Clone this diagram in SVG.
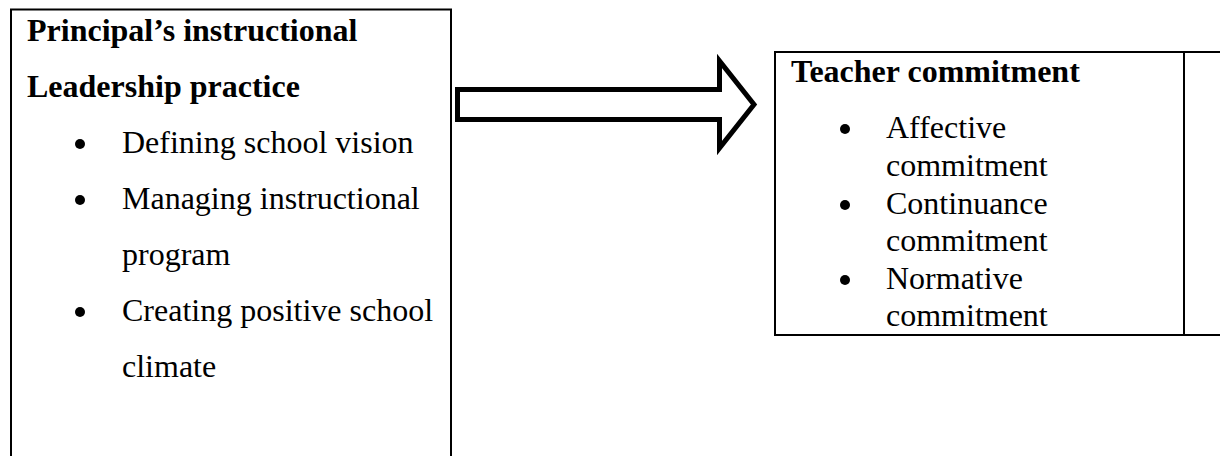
<svg xmlns="http://www.w3.org/2000/svg" width="1220" height="456" viewBox="0 0 1220 456">
<style>
.box{fill:#fff;stroke:#000;stroke-width:2}
.h{font-family:"Liberation Serif","Times New Roman",serif;font-size:32px;font-weight:bold;fill:#000}
.t{font-family:"Liberation Serif","Times New Roman",serif;font-size:32px;fill:#000}
.b{fill:#000}
</style>
<rect width="1220" height="456" fill="#fff"/>
<g id="leadership">
<rect class="box" x="11" y="9.5" width="440" height="470"/>
<text class="h" x="27" y="41">Principal’s instructional</text>
<text class="h" x="27" y="97">Leadership practice</text>
<circle class="b" cx="80" cy="144" r="5"/>
<text class="t" x="122" y="153">Defining school vision</text>
<circle class="b" cx="80" cy="200" r="5"/>
<text class="t" x="122" y="209">Managing instructional</text>
<text class="t" x="122" y="265">program</text>
<circle class="b" cx="80" cy="312" r="5"/>
<text class="t" x="122" y="321">Creating positive school</text>
<text class="t" x="122" y="377">climate</text>
</g>
<g id="connectors">
<path d="M457.5,89.5 L719.5,89.5 L719.5,61 L754,104.5 L719.5,148 L719.5,119.5 L457.5,119.5 Z" fill="#fff" stroke="#000" stroke-width="5" stroke-linejoin="miter" stroke-miterlimit="10"/>
</g>
<g id="commitment">
<rect class="box" x="775" y="52" width="460" height="283"/>
<line x1="1184" y1="52" x2="1184" y2="335" stroke="#000" stroke-width="2"/>
<text class="h" x="791" y="82">Teacher commitment</text>
<circle class="b" cx="845" cy="129" r="5"/>
<text class="t" x="886" y="138">Affective</text>
<text class="t" x="886" y="176">commitment</text>
<circle class="b" cx="845" cy="205" r="5"/>
<text class="t" x="886" y="214">Continuance</text>
<text class="t" x="886" y="251">commitment</text>
<circle class="b" cx="845" cy="280" r="5"/>
<text class="t" x="886" y="289">Normative</text>
<text class="t" x="886" y="326">commitment</text>
</g>
</svg>
